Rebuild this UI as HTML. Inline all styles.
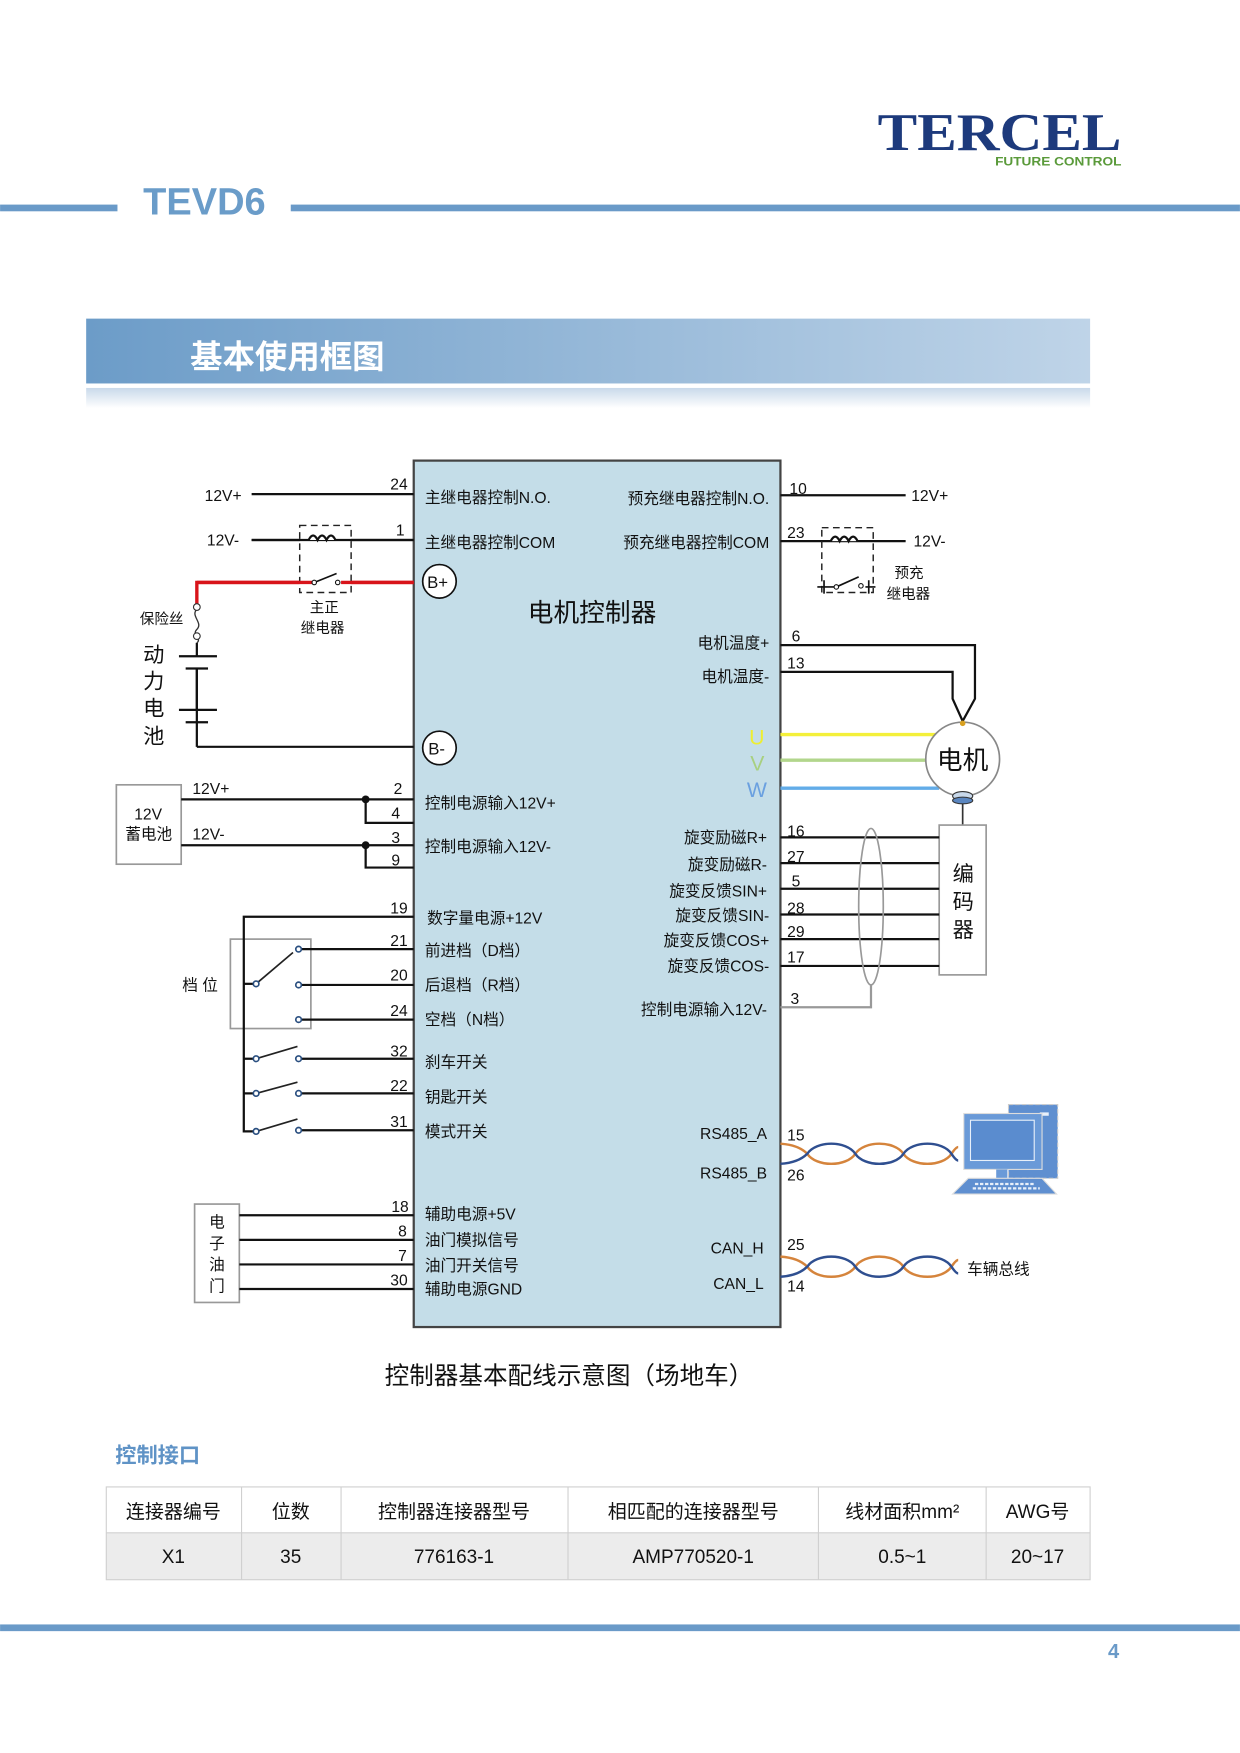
<!DOCTYPE html>
<html><head><meta charset="utf-8"><style>
html,body{margin:0;padding:0;background:#fff}
svg{display:block}
text{font-family:"Liberation Sans","Noto Sans CJK SC",sans-serif;fill:#111}
</style></head><body>
<svg width="1240" height="1753" viewBox="0 0 1109 1568" xmlns="http://www.w3.org/2000/svg">
<defs>
<linearGradient id="bn" x1="0" x2="1"><stop offset="0" stop-color="#6c9cc8"/><stop offset="1" stop-color="#bfd4e8"/></linearGradient>
<linearGradient id="rf" x1="0" y1="0" x2="0" y2="1"><stop offset="0" stop-color="#c9d9ea"/><stop offset="1" stop-color="#fff"/></linearGradient>
</defs>
<!-- header -->
<text x="785" y="134" textLength="218" lengthAdjust="spacingAndGlyphs" style="font-family:'Liberation Serif',serif;font-weight:bold;font-size:47px;fill:#1d3a7c">TERCEL</text>
<text x="890" y="148" textLength="113" lengthAdjust="spacingAndGlyphs" style="font-size:11px;font-weight:bold;fill:#5a9a3a">FUTURE CONTROL</text>
<rect x="0" y="183" width="105" height="6" fill="#6a9ac8"/>
<rect x="260" y="183" width="849" height="6" fill="#6a9ac8"/>
<text x="128" y="192" style="font-size:34px;font-weight:bold;fill:#6a9cc9">TEVD6</text>
<rect x="77" y="285" width="898" height="58" fill="url(#bn)"/>
<rect x="77" y="347" width="898" height="18" fill="url(#rf)"/>
<text x="170" y="329" style="font-size:29px;font-weight:bold;fill:#fff">基本使用框图</text>

<!-- controller -->
<rect x="370" y="412" width="328" height="775" fill="#c4dde8" stroke="#444" stroke-width="2"/>
<text x="472" y="556" style="font-size:23px">电机控制器</text>
<g stroke="#111" stroke-width="2" fill="none">
<line x1="225" y1="442" x2="370" y2="442"/>
<line x1="225" y1="483" x2="370" y2="483"/>
<line x1="176" y1="668" x2="370" y2="668"/>
<line x1="176" y1="598" x2="176" y2="668"/>
<line x1="176" y1="575" x2="176" y2="587"/>
<line x1="160" y1="587" x2="194" y2="587"/>
<line x1="166" y1="598" x2="186" y2="598"/>
<line x1="176" y1="598" x2="176" y2="635"/>
<line x1="160" y1="635" x2="194" y2="635"/>
<line x1="166" y1="646" x2="186" y2="646"/>
</g>
<path d="M176,545 V521 H370" stroke="#d8141a" stroke-width="3" fill="none"/>
<path d="M176,545 c-6,6 6,12 0,18 c-5,5 5,8 0,12" stroke="#333" stroke-width="1.2" fill="none"/>
<circle cx="176" cy="543" r="3" fill="#fff" stroke="#333"/><circle cx="176" cy="569" r="3" fill="#fff" stroke="#333"/>
<rect x="268" y="470" width="46" height="60" fill="#fff" stroke="#222" stroke-dasharray="6,4" stroke-width="1.3"/>
<line x1="225" y1="483" x2="370" y2="483" stroke="#111" stroke-width="2"/>
<path d="M276,483 q4,-8 8,0 q4,-8 8,0 q4,-8 8,0" stroke="#111" stroke-width="2" fill="#fff"/>
<line x1="176" y1="521" x2="370" y2="521" stroke="#d8141a" stroke-width="3"/>
<rect x="279" y="512" width="26" height="14" fill="#fff"/>
<line x1="281" y1="521" x2="301" y2="513" stroke="#111" stroke-width="1.5"/>
<circle cx="281" cy="521" r="2" fill="#fff" stroke="#111"/><circle cx="302" cy="521" r="2" fill="#fff" stroke="#111"/>
<circle cx="393" cy="520" r="15" fill="#fff" stroke="#111" stroke-width="1.5"/><text x="382" y="526" style="font-size:15px">B+</text>
<circle cx="393" cy="669" r="15" fill="#fff" stroke="#111" stroke-width="1.5"/><text x="383" y="675" style="font-size:15px">B-</text>
<g style="font-size:14px">
<text x="183" y="448">12V+</text><text x="185" y="488">12V-</text>
<text x="349" y="438">24</text><text x="354" y="479">1</text>
<text x="380" y="450">主继电器控制N.O.</text><text x="380" y="490">主继电器控制COM</text>
<text x="125" y="558" style="font-size:13px">保险丝</text>
<text x="277" y="548" style="font-size:13px">主正</text><text x="269" y="566" style="font-size:13px">继电器</text>
</g>
<g style="font-size:19px"><text x="128" y="592">动</text><text x="128" y="616">力</text><text x="128" y="640">电</text><text x="128" y="665">池</text></g>

<!-- 12V battery -->
<rect x="104" y="702" width="58" height="71" fill="#fff" stroke="#999" stroke-width="1.5"/>
<text x="120" y="733" style="font-size:14px">12V</text><text x="112" y="751" style="font-size:14px">蓄电池</text>
<g stroke="#111" stroke-width="2" fill="none">
<line x1="162" y1="715" x2="370" y2="715"/><path d="M327,715 V736 H370"/>
<line x1="162" y1="756" x2="370" y2="756"/><path d="M327,756 V776 H370"/>
</g>
<circle cx="327" cy="715" r="3.5" fill="#111"/><circle cx="327" cy="756" r="3.5" fill="#111"/>
<g style="font-size:14px">
<text x="172" y="710">12V+</text><text x="172" y="751">12V-</text>
<text x="352" y="710">2</text><text x="350" y="732">4</text><text x="350" y="754">3</text><text x="350" y="774">9</text>
<text x="380" y="723">控制电源输入12V+</text><text x="380" y="762">控制电源输入12V-</text>
</g>

<!-- gear switches -->
<rect x="206" y="840" width="72" height="80" fill="none" stroke="#999" stroke-width="1.5"/>
<g stroke="#111" stroke-width="2" fill="none">
<path d="M370,820 H218 V1012 H229"/>
<line x1="218" y1="880" x2="229" y2="880"/><line x1="218" y1="947" x2="229" y2="947"/><line x1="218" y1="978" x2="229" y2="978"/>
<line x1="267" y1="849" x2="370" y2="849"/><line x1="267" y1="881" x2="370" y2="881"/><line x1="267" y1="912" x2="370" y2="912"/>
<line x1="267" y1="947" x2="370" y2="947"/><line x1="267" y1="978" x2="370" y2="978"/><line x1="267" y1="1011" x2="370" y2="1011"/>
</g>
<g stroke="#222" stroke-width="1.5">
<line x1="229" y1="880" x2="262" y2="852"/>
<line x1="229" y1="947" x2="266" y2="936"/><line x1="229" y1="978" x2="266" y2="968"/><line x1="229" y1="1012" x2="266" y2="1001"/>
</g>
<g fill="#fff" stroke="#2a4f80" stroke-width="1.5">
<circle cx="229" cy="880" r="2.5"/><circle cx="267" cy="849" r="2.5"/><circle cx="267" cy="881" r="2.5"/><circle cx="267" cy="912" r="2.5"/>
<circle cx="229" cy="947" r="2.5"/><circle cx="267" cy="947" r="2.5"/><circle cx="229" cy="978" r="2.5"/><circle cx="267" cy="978" r="2.5"/><circle cx="229" cy="1012" r="2.5"/><circle cx="267" cy="1011" r="2.5"/>
</g>
<g style="font-size:14px">
<text x="163" y="886">档 位</text>
<text x="349" y="817">19</text><text x="349" y="846">21</text><text x="349" y="877">20</text><text x="349" y="909">24</text>
<text x="349" y="945">32</text><text x="349" y="976">22</text><text x="349" y="1008">31</text>
<text x="382" y="826">数字量电源+12V</text><text x="380" y="855">前进档（D档）</text><text x="380" y="886">后退档（R档）</text><text x="380" y="917">空档（N档）</text>
<text x="380" y="955">刹车开关</text><text x="380" y="986">钥匙开关</text><text x="380" y="1017">模式开关</text>
</g>

<!-- throttle -->
<rect x="174" y="1077" width="40" height="88" fill="#fff" stroke="#999" stroke-width="1.5"/>
<g style="font-size:14px"><text x="187" y="1098">电</text><text x="187" y="1117">子</text><text x="187" y="1136">油</text><text x="187" y="1155">门</text></g>
<g stroke="#111" stroke-width="2"><line x1="214" y1="1087" x2="370" y2="1087"/><line x1="214" y1="1109" x2="370" y2="1109"/><line x1="214" y1="1131" x2="370" y2="1131"/><line x1="214" y1="1153" x2="370" y2="1153"/></g>
<g style="font-size:14px">
<text x="350" y="1084">18</text><text x="356" y="1106">8</text><text x="356" y="1128">7</text><text x="349" y="1150">30</text>
<text x="380" y="1091">辅助电源+5V</text><text x="380" y="1114">油门模拟信号</text><text x="380" y="1137">油门开关信号</text><text x="380" y="1158">辅助电源GND</text>
</g>

<!-- right side top -->
<g stroke="#111" stroke-width="2" fill="none">
<line x1="698" y1="443" x2="810" y2="443"/><line x1="698" y1="484" x2="810" y2="484"/>
<path d="M698,577 H872 V625 L861,645 L852,625 V601 H698"/>
</g>
<rect x="735" y="472" width="46" height="58" fill="none" stroke="#222" stroke-dasharray="6,4" stroke-width="1.3"/>
<path d="M743,484 q4,-8 8,0 q4,-8 8,0 q4,-8 8,0" stroke="#111" stroke-width="2" fill="#fff"/>
<g stroke="#111" stroke-width="1.5"><line x1="731" y1="525" x2="783" y2="525"/><line x1="737" y1="519" x2="737" y2="531"/><line x1="777" y1="519" x2="777" y2="531"/></g>
<rect x="746" y="513" width="28" height="14" fill="#fff"/>
<line x1="748" y1="525" x2="768" y2="516" stroke="#111" stroke-width="1.5"/>
<circle cx="748" cy="525" r="2" fill="#fff" stroke="#111"/><circle cx="770" cy="524" r="2" fill="#fff" stroke="#111"/>
<g style="font-size:14px">
<text x="706" y="442">10</text><text x="704" y="481">23</text>
<text x="815" y="448">12V+</text><text x="817" y="489">12V-</text>
<text x="800" y="517" style="font-size:13px">预充</text><text x="793" y="536" style="font-size:13px">继电器</text>
<text x="688" y="451" text-anchor="end">预充继电器控制N.O.</text><text x="688" y="490" text-anchor="end">预充继电器控制COM</text>
<text x="708" y="574">6</text><text x="704" y="598">13</text>
<text x="688" y="580" text-anchor="end">电机温度+</text><text x="688" y="610" text-anchor="end">电机温度-</text>
</g>
<!-- motor -->
<line x1="698" y1="657" x2="840" y2="657" stroke="#f4f03a" stroke-width="3"/>
<line x1="698" y1="680" x2="830" y2="680" stroke="#b2d68c" stroke-width="3"/>
<line x1="698" y1="705" x2="840" y2="705" stroke="#62ace8" stroke-width="3"/>
<text x="670" y="666" style="font-size:19px;fill:#eeee30">U</text>
<text x="671" y="689" style="font-size:19px;fill:#a8d080">V</text>
<text x="668" y="713" style="font-size:19px;fill:#6aa0e0">W</text>
<circle cx="861" cy="679" r="33" fill="#fff" stroke="#888" stroke-width="1.5"/>
<circle cx="861" cy="647" r="2.5" fill="#d8a020"/>
<text x="838" y="688" style="font-size:23px">电机</text>
<ellipse cx="861" cy="712" rx="9" ry="4" fill="#c8d8ea" stroke="#333"/>
<ellipse cx="861" cy="716" rx="9" ry="3" fill="#5a86c0" stroke="#333"/>
<line x1="861" y1="719" x2="861" y2="738" stroke="#333" stroke-width="1.5"/>
<rect x="840" y="738" width="42" height="134" fill="#fff" stroke="#999" stroke-width="1.5"/>
<g style="font-size:19px"><text x="852" y="788">编</text><text x="852" y="813">码</text><text x="852" y="838">器</text></g>
<g stroke="#111" stroke-width="2">
<line x1="698" y1="749" x2="840" y2="749"/><line x1="698" y1="772" x2="840" y2="772"/><line x1="698" y1="795" x2="840" y2="795"/>
<line x1="698" y1="818" x2="840" y2="818"/><line x1="698" y1="840" x2="840" y2="840"/><line x1="698" y1="864" x2="840" y2="864"/>
</g>
<ellipse cx="779" cy="811" rx="11" ry="70" fill="none" stroke="#999" stroke-width="1.5"/>
<path d="M698,901 H779 V881" stroke="#999" stroke-width="2" fill="none"/>
<g style="font-size:14px">
<text x="704" y="748">16</text><text x="704" y="771">27</text><text x="708" y="793">5</text><text x="704" y="817">28</text><text x="704" y="838">29</text><text x="704" y="861">17</text><text x="707" y="898">3</text>
<text x="686" y="754" text-anchor="end">旋变励磁R+</text><text x="686" y="778" text-anchor="end">旋变励磁R-</text>
<text x="686" y="802" text-anchor="end">旋变反馈SIN+</text><text x="688" y="824" text-anchor="end">旋变反馈SIN-</text>
<text x="688" y="846" text-anchor="end">旋变反馈COS+</text><text x="688" y="869" text-anchor="end">旋变反馈COS-</text>
<text x="686" y="908" text-anchor="end">控制电源输入12V-</text>
<text x="686" y="1019" text-anchor="end">RS485_A</text><text x="686" y="1054" text-anchor="end">RS485_B</text>
<text x="704" y="1020">15</text><text x="704" y="1056">26</text>
<text x="683" y="1121" text-anchor="end">CAN_H</text><text x="683" y="1153" text-anchor="end">CAN_L</text>
<text x="704" y="1118">25</text><text x="704" y="1155">14</text>
<text x="865" y="1140">车辆总线</text>
</g>
<!-- twisted pairs -->
<g fill="none" stroke-width="2.2">
<g id="tp">
<path d="M698,1023 Q714,1024 722,1032 C730,1044 757,1044 765,1032 C773,1020 800,1020 808,1032 C816,1044 843,1044 851,1032 Q855,1026 857,1026" stroke="#d5843c"/>
<path d="M698,1041 Q714,1040 722,1032 C730,1020 757,1020 765,1032 C773,1044 800,1044 808,1032 C816,1020 843,1020 851,1032 Q855,1038 857,1038" stroke="#2f4f90"/>
</g>
<use href="#tp" transform="translate(0,101)"/>
</g>
<!-- computer -->
<rect x="902" y="988" width="44" height="66" fill="#5f8fd0" stroke="#ccc" stroke-dasharray="4,2"/>
<rect x="930" y="995" width="8" height="3" fill="#e8f0fa"/>
<rect x="862" y="996" width="70" height="50" fill="#6a9ad8" stroke="#ddd"/>
<rect x="868" y="1002" width="57" height="36" fill="#5a8ccf" stroke="#e8f0fa"/>
<rect x="891" y="1046" width="10" height="8" fill="#6a9ad8"/>
<polygon points="866,1054 932,1054 945,1068 852,1068" fill="#5f8fd0" stroke="#ddd"/>
<line x1="872" y1="1059" x2="926" y2="1059" stroke="#e8f0fa" stroke-width="2" stroke-dasharray="3,1.5"/>
<line x1="870" y1="1063" x2="930" y2="1063" stroke="#e8f0fa" stroke-width="2" stroke-dasharray="3,1.5"/>

<!-- caption -->
<text x="344" y="1238" style="font-size:22px">控制器基本配线示意图（场地车）</text>
<text x="103" y="1308" style="font-size:19px;font-weight:bold;fill:#5f93c6">控制接口</text>
<!-- table -->
<rect x="95" y="1371" width="880" height="42" fill="#ececec"/>
<g stroke="#d0d0d0" stroke-width="1" fill="none">
<rect x="95" y="1330" width="880" height="83"/><line x1="95" y1="1371" x2="975" y2="1371"/>
<line x1="216" y1="1330" x2="216" y2="1413"/><line x1="305" y1="1330" x2="305" y2="1413"/><line x1="508" y1="1330" x2="508" y2="1413"/><line x1="732" y1="1330" x2="732" y2="1413"/><line x1="882" y1="1330" x2="882" y2="1413"/>
</g>
<g style="font-size:17px" text-anchor="middle">
<text x="155" y="1358">连接器编号</text><text x="260" y="1358">位数</text><text x="406" y="1358">控制器连接器型号</text><text x="620" y="1358">相匹配的连接器型号</text><text x="807" y="1358">线材面积mm²</text><text x="928" y="1358">AWG号</text>
<text x="155" y="1398">X1</text><text x="260" y="1398">35</text><text x="406" y="1398">776163-1</text><text x="620" y="1398">AMP770520-1</text><text x="807" y="1398">0.5~1</text><text x="928" y="1398">20~17</text>
</g>
<rect x="0" y="1453" width="1109" height="6" fill="#6a9ac8"/>
<text x="991" y="1483" style="font-size:18px;font-weight:bold;fill:#6a9ac8">4</text>
</svg>
</body></html>
